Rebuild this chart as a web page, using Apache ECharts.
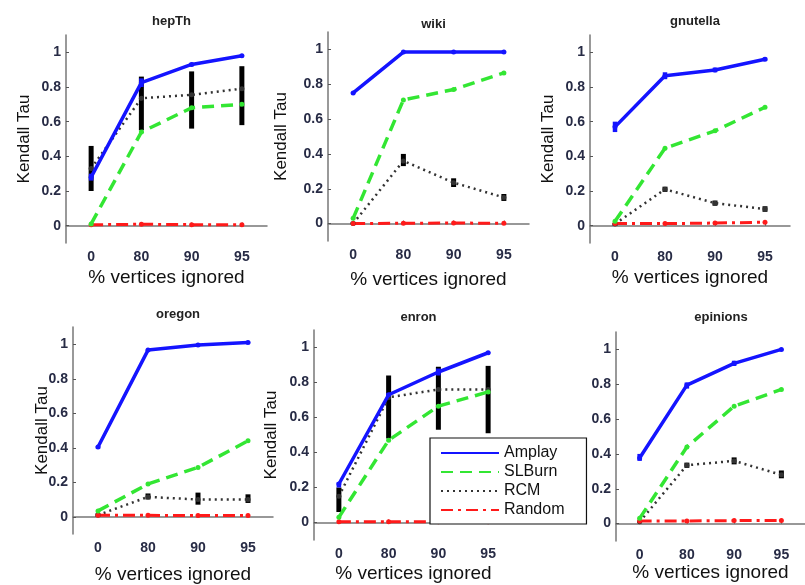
<!DOCTYPE html>
<html><head><meta charset="utf-8">
<script src="https://cdn.jsdelivr.net/npm/echarts@6/dist/echarts.min.js"></script>
<style>html,body{margin:0;padding:0;background:#fff}#c{width:805px;height:585px}</style>
</head><body><div id="c"></div>
<script>
// ---------- data ----------
const categories = ['0', '80', '90', '95'];
const yTicks = [0, 0.2, 0.4, 0.6, 0.8, 1];
const panelNames = ['hepTh', 'wiki', 'gnutella', 'oregon', 'enron', 'epinions'];
const methodNames = ['Amplay', 'SLBurn', 'RCM', 'Random'];

const hepThAmplay = [0.28, 0.825, 0.93, 0.98];
const hepThSLBurn = [0.01, 0.54, 0.68, 0.70];
const hepThRCM = [0.33, 0.735, 0.755, 0.79];
const hepThRandom = [0.005, 0.008, 0.006, 0.006];
const hepThRCMLow = [0.20, 0.55, 0.56, 0.58];
const hepThRCMHigh = [0.46, 0.86, 0.89, 0.92];
const hepThAmpLow = [0.26, 0.80, 0.92, 0.975];
const hepThAmpHigh = [0.30, 0.85, 0.94, 0.985];

const wikiAmplay = [0.75, 0.985, 0.985, 0.985];
const wikiSLBurn = [0.03, 0.71, 0.77, 0.865];
const wikiRCM = [0.0, 0.36, 0.235, 0.15];
const wikiRandom = [0.0, 0.002, 0.003, 0.002];
const wikiRCMLow = [-0.005, 0.33, 0.21, 0.13];
const wikiRCMHigh = [0.01, 0.40, 0.26, 0.17];
const wikiAmpLow = [0.745, 0.98, 0.98, 0.98];
const wikiAmpHigh = [0.755, 0.99, 0.99, 0.99];

const gnutellaAmplay = [0.57, 0.865, 0.898, 0.96];
const gnutellaSLBurn = [0.025, 0.447, 0.547, 0.683];
const gnutellaRCM = [0.01, 0.21, 0.13, 0.096];
const gnutellaRandom = [0.012, 0.012, 0.015, 0.02];
const gnutellaRCMLow = [0.0, 0.195, 0.115, 0.08];
const gnutellaRCMHigh = [0.015, 0.225, 0.145, 0.112];
const gnutellaAmpLow = [0.54, 0.845, 0.885, 0.95];
const gnutellaAmpHigh = [0.60, 0.885, 0.912, 0.97];

const oregonAmplay = [0.404, 0.966, 0.996, 1.01];
const oregonSLBurn = [0.034, 0.19, 0.286, 0.44];
const oregonRCM = [0.01, 0.115, 0.10, 0.10];
const oregonRandom = [0.008, 0.008, 0.007, 0.007];
const oregonRCMLow = [0.0, 0.10, 0.07, 0.08];
const oregonRCMHigh = [0.02, 0.135, 0.14, 0.13];
const oregonAmpLow = [0.395, 0.96, 0.99, 1.005];
const oregonAmpHigh = [0.41, 0.97, 1.0, 1.015];

const enronAmplay = [0.22, 0.73, 0.86, 0.97];
const enronSLBurn = [0.03, 0.47, 0.665, 0.746];
const enronRCM = [0.15, 0.715, 0.76, 0.76];
const enronRandom = [0.005, 0.005, 0.005, 0.005];
const enronRCMLow = [0.06, 0.48, 0.53, 0.51];
const enronRCMHigh = [0.20, 0.84, 0.89, 0.895];
const enronAmpLow = [0.20, 0.72, 0.84, 0.965];
const enronAmpHigh = [0.23, 0.74, 0.88, 0.975];

const epinionsAmplay = [0.377, 0.795, 0.92, 1.0];
const epinionsSLBurn = [0.03, 0.44, 0.674, 0.77];
const epinionsRCM = [0.01, 0.335, 0.36, 0.28];
const epinionsRandom = [0.015, 0.015, 0.017, 0.017];
const epinionsRCMLow = [0.005, 0.32, 0.34, 0.26];
const epinionsRCMHigh = [0.015, 0.35, 0.38, 0.305];
const epinionsAmpLow = [0.36, 0.775, 0.905, 0.995];
const epinionsAmpHigh = [0.40, 0.81, 0.935, 1.0];

const panelData = [
  [hepThAmplay, hepThSLBurn, hepThRCM, hepThRandom, hepThRCMLow, hepThRCMHigh, hepThAmpLow, hepThAmpHigh],
  [wikiAmplay, wikiSLBurn, wikiRCM, wikiRandom, wikiRCMLow, wikiRCMHigh, wikiAmpLow, wikiAmpHigh],
  [gnutellaAmplay, gnutellaSLBurn, gnutellaRCM, gnutellaRandom, gnutellaRCMLow, gnutellaRCMHigh, gnutellaAmpLow, gnutellaAmpHigh],
  [oregonAmplay, oregonSLBurn, oregonRCM, oregonRandom, oregonRCMLow, oregonRCMHigh, oregonAmpLow, oregonAmpHigh],
  [enronAmplay, enronSLBurn, enronRCM, enronRandom, enronRCMLow, enronRCMHigh, enronAmpLow, enronAmpHigh],
  [epinionsAmplay, epinionsSLBurn, epinionsRCM, epinionsRandom, epinionsRCMLow, epinionsRCMHigh, epinionsAmpLow, epinionsAmpHigh]
];

// ---------- layout / style ----------
const layouts = [
  {left: 66, top: 35, w: 201, h: 208, yGap: 33, xGap: 25, tTop: 10, yName: true},
  {left: 328, top: 32, w: 201, h: 209, yGap: 38, xGap: 29, tTop: 13, yName: true},
  {left: 590, top: 35, w: 200, h: 208, yGap: 33, xGap: 25, tTop: 10, yName: true},
  {left: 73, top: 327, w: 200, h: 210, yGap: 22, xGap: 31, tTop: 303, yName: true},
  {left: 314, top: 330, w: 199, h: 210, yGap: 34, xGap: 24, tTop: 306, yName: true},
  {left: 616, top: 332, w: 200, h: 209, yGap: 36, xGap: 21, tTop: 306, yName: false}
];
const colors = ['#1414ff', '#33e633', '#333333', '#ff1a1a'];
const lineStyles = [
  {width: 3.5, type: 'solid'},
  {width: 3.5, type: [12, 7]},
  {width: 2.5, type: [2, 4]},
  {width: 3, type: [12, 5, 3, 5]}
];
const tickColor = '#272b45';

const grids = [], xAxes = [], yAxes = [], titles = [], series = [];
layouts.forEach((L, i) => {
  grids.push({left: L.left, top: L.top, width: L.w, height: L.h, containLabel: false});
  titles.push({
    text: panelNames[i], left: L.left + L.w / 2, top: L.tTop, textAlign: 'center',
    textStyle: {fontFamily: 'Liberation Sans, Arial', fontSize: 13, fontWeight: 'bold', color: '#222'}
  });
  xAxes.push({
    type: 'value', gridIndex: i, min: 0.5, max: 4.5,
    name: '% vertices ignored', nameLocation: 'middle', nameGap: L.xGap,
    nameTextStyle: {fontFamily: 'Liberation Sans, Arial', fontSize: 19, color: '#111', verticalAlign: 'top'},
    axisLine: {show: true, lineStyle: {color: '#777', width: 1.5}},
    axisTick: {show: true, inside: true, length: 3, customValues: [1, 2, 3, 4], lineStyle: {color: '#555'}},
    splitLine: {show: false},
    axisLabel: {
      customValues: [1, 2, 3, 4], margin: 7,
      formatter: v => categories[Math.round(v) - 1],
      fontFamily: 'Liberation Sans, Arial', fontSize: 14, fontWeight: 'bold', color: tickColor
    }
  });
  yAxes.push({
    type: 'value', gridIndex: i, min: -0.1, max: 1.1,
    name: L.yName ? 'Kendall Tau' : '', nameLocation: 'middle', nameGap: L.yGap,
    nameMoveOverlap: false,
    nameTextStyle: {fontFamily: 'Liberation Sans, Arial', fontSize: 17, color: '#111'},
    axisLine: {show: true, lineStyle: {color: '#777', width: 1.5}},
    axisTick: {show: true, inside: true, length: 3, customValues: yTicks, lineStyle: {color: '#555'}},
    splitLine: {show: false},
    axisLabel: {
      customValues: yTicks, margin: 5,
      formatter: v => String(Math.round(v * 10) / 10),
      fontFamily: 'Liberation Sans, Arial', fontSize: 14, fontWeight: 'bold', color: tickColor
    }
  });
  const d = panelData[i];
  const errSeries = (lo, hi, color, width, name) => ({
    type: 'custom', name: name, xAxisIndex: i, yAxisIndex: i, z: 1, silent: true,
    data: categories.map((c, k) => [k + 1, lo[k], hi[k]]),
    renderItem: (params, api) => {
      const p1 = api.coord([api.value(0), api.value(1)]);
      const p2 = api.coord([api.value(0), api.value(2)]);
      return {type: 'line', shape: {x1: p1[0], y1: p1[1], x2: p2[0], y2: p2[1]},
        style: {stroke: color, lineWidth: width}};
    }
  });
  series.push(errSeries(d[4], d[5], '#000', 5, 'RCM error'));
  series.push(errSeries(d[6], d[7], colors[0], 4.5, 'Amplay error'));
  // draw order: RCM, Random, SLBurn, Amplay (blue on top)
  [2, 3, 1, 0].forEach(m => {
    series.push({
      type: 'line', name: methodNames[m], xAxisIndex: i, yAxisIndex: i,
      z: 2 + (m === 0 ? 3 : m === 1 ? 2 : 1),
      data: categories.map((c, k) => [k + 1, d[m][k]]),
      symbol: 'circle', symbolSize: 5, showSymbol: true,
      itemStyle: {color: colors[m]},
      lineStyle: {color: colors[m], width: lineStyles[m].width, type: lineStyles[m].type},
      animation: false, silent: true
    });
  });
});

const chart = echarts.init(document.getElementById('c'), null, {renderer: 'canvas'});
chart.setOption({
  animation: false,
  backgroundColor: '#fff',
  title: titles,
  grid: grids,
  xAxis: xAxes,
  yAxis: yAxes,
  legend: {
    data: methodNames, orient: 'vertical', left: 430, top: 438,
    itemWidth: 58, itemHeight: 14, itemGap: 3,
    padding: [7, 22, 6, 10],
    backgroundColor: '#fff', borderColor: '#111', borderWidth: 1.2,
    itemStyle: {opacity: 0},
    textStyle: {fontFamily: 'Liberation Sans, Arial', fontSize: 16, color: '#111'},
    selectedMode: false, z: 10
  },
  series: series
});
</script>
</body></html>
